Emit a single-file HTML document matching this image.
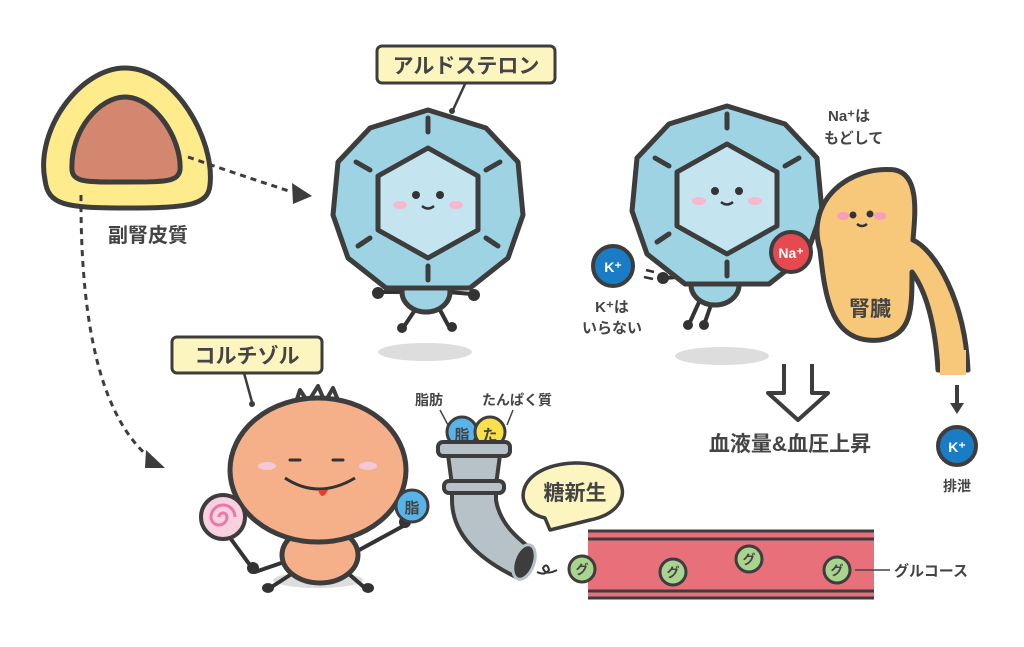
<!DOCTYPE html>
<html><head><meta charset="utf-8"><style>
body{margin:0;background:#fff}
svg{display:block}
text{font-family:"Liberation Sans","Noto Sans CJK JP",sans-serif;fill:#444;font-weight:bold}
</style></head><body>
<svg width="1024" height="647" viewBox="0 0 1024 647" xmlns="http://www.w3.org/2000/svg">
<defs>
<g id="mol">
  <polygon points="0,-90 58,-72 90,-38 95,15 80,58 42,88 -42,88 -80,58 -95,15 -90,-38 -58,-72" fill="#9dd3e2" stroke="#3d3d3d" stroke-width="5" stroke-linejoin="round"/>
  <polygon points="0,-52 50,-24 50,30 0,58 -50,30 -50,-24" fill="#c4e5ef" stroke="#3d3d3d" stroke-width="5" stroke-linejoin="round"/>
  <g stroke="#3d3d3d" stroke-width="5" stroke-linecap="round">
    <line x1="0" y1="-82" x2="0" y2="-68"/><line x1="0" y1="66" x2="0" y2="80"/>
    <line x1="58" y1="-30" x2="72" y2="-38"/><line x1="-58" y1="-30" x2="-72" y2="-38"/>
    <line x1="58" y1="38" x2="70" y2="46"/><line x1="-58" y1="38" x2="-70" y2="46"/>
  </g>
  <circle cx="-12" cy="-5" r="4" fill="#333"/><circle cx="12" cy="-5" r="4" fill="#333"/>
  <path d="M-6,6 Q0,11 6,6" stroke="#333" stroke-width="2.5" fill="none"/>
  <ellipse cx="-28" cy="5" rx="7" ry="4" fill="#f5b8cc"/><ellipse cx="28" cy="5" rx="7" ry="4" fill="#f5b8cc"/>
</g>
</defs>

<!-- adrenal -->
<path d="M45,180 C35,130 80,68 125,68 C175,68 215,140 210,185 C208,205 190,208 125,208 C65,208 48,205 45,180Z" fill="#fdeb8c" stroke="#3d3d3d" stroke-width="5"/>
<path d="M72,170 C70,130 100,97 125,97 C155,97 182,140 180,170 C178,182 165,182 125,182 C90,182 73,183 72,170Z" fill="#d4876f" stroke="#3d3d3d" stroke-width="5"/>
<text x="108" y="242" font-size="20">副腎皮質</text>
<path d="M188,157 Q240,175 292,192" stroke="#3d3d3d" stroke-width="3" stroke-dasharray="6,5" fill="none"/>
<polygon points="292,183 312,196 293,204" fill="#3d3d3d"/>
<path d="M81,195 Q80,400 150,458" stroke="#3d3d3d" stroke-width="3" stroke-dasharray="6,5" fill="none"/>
<polygon points="146,450 165,468 145,468" fill="#3d3d3d"/>

<!-- aldosterone label -->
<rect x="377" y="46" width="178" height="37" rx="5" fill="#fdf5c0" stroke="#3d3d3d" stroke-width="3"/>
<text x="466" y="73" font-size="21" text-anchor="middle">アルドステロン</text>
<line x1="465" y1="84" x2="453" y2="110" stroke="#3d3d3d" stroke-width="2.5"/><circle cx="452" cy="111" r="3" fill="#3d3d3d"/>

<!-- molecule 1 -->
<ellipse cx="425" cy="352" rx="47" ry="9" fill="#ddd"/>
<g stroke="#333" stroke-width="4" fill="none" stroke-linecap="round">
<path d="M408,292 L380,292"/><path d="M448,292 L472,294"/>
<path d="M415,310 L405,325"/><path d="M440,310 L448,325"/></g>
<circle cx="378" cy="293" r="6" fill="#333"/><circle cx="474" cy="295" r="6" fill="#333"/>
<circle cx="402" cy="328" r="5" fill="#333"/><circle cx="452" cy="327" r="5" fill="#333"/>
<ellipse cx="426" cy="292" rx="24" ry="20" fill="#9dd3e2" stroke="#3d3d3d" stroke-width="5"/>
<use href="#mol" x="428" y="200"/>

<!-- molecule 2 -->
<ellipse cx="722" cy="356" rx="47" ry="9" fill="#ddd"/>
<g stroke="#333" stroke-width="4" fill="none" stroke-linecap="round">
<path d="M700,275 L665,278"/><path d="M740,275 L780,270"/>
<path d="M700,300 L690,322"/><path d="M712,302 L705,322"/></g>
<circle cx="663" cy="278" r="6" fill="#333"/><circle cx="688" cy="325" r="5" fill="#333"/><circle cx="704" cy="325" r="5" fill="#333"/>
<ellipse cx="715" cy="285" rx="24" ry="20" fill="#9dd3e2" stroke="#3d3d3d" stroke-width="5"/>
<use href="#mol" x="727" y="196"/>
<line x1="646" y1="270" x2="654" y2="272" stroke="#333" stroke-width="2.5"/><line x1="644" y1="277" x2="653" y2="279" stroke="#333" stroke-width="2.5"/>
<circle cx="613" cy="266" r="20" fill="#1a7cc4" stroke="#3d3d3d" stroke-width="4"/>
<text x="613" y="272" font-size="14" fill="#fff" style="fill:#fff" text-anchor="middle">K⁺</text>
<text x="612" y="312" font-size="15" font-weight="normal" text-anchor="middle">K⁺は</text>
<text x="612" y="333" font-size="15" text-anchor="middle">いらない</text>
<text x="828" y="121" font-size="15">Na⁺は</text>
<text x="824" y="143" font-size="15">もどして</text>

<!-- kidney -->
<path d="M820,250 C805,200 850,165 895,170 C920,175 915,215 913,240 C935,250 965,300 968,370 L938,370 C935,320 925,290 912,272 C912,310 912,335 880,340 C830,345 825,295 820,250Z" fill="#f8c87a" stroke="#3d3d3d" stroke-width="5" stroke-linejoin="round"/>
<rect x="940" y="350" width="26" height="25" fill="#f8c87a"/>
<circle cx="853" cy="215" r="3.5" fill="#333"/><circle cx="870" cy="214" r="3.5" fill="#333"/>
<path d="M857,224 Q862,228 867,224" stroke="#333" stroke-width="2.5" fill="none"/>
<ellipse cx="843" cy="216" rx="6" ry="4" fill="#f5a0b8"/><ellipse cx="880" cy="216" rx="6" ry="4" fill="#f5a0b8"/>
<text x="870" y="316" font-size="21" text-anchor="middle">腎臓</text>
<circle cx="791" cy="252" r="20" fill="#e64a50" stroke="#3d3d3d" stroke-width="4"/>
<text x="791" y="258" font-size="14" style="fill:#fff" text-anchor="middle">Na⁺</text>

<!-- hollow arrow -->
<path d="M784,364 L784,393 L768,393 L798,420 L828,393 L812,393 L812,364" fill="#fff" stroke="#3d3d3d" stroke-width="4" stroke-linejoin="round"/>
<text x="790" y="451" font-size="21" text-anchor="middle">血液量&amp;血圧上昇</text>
<line x1="957" y1="385" x2="957" y2="405" stroke="#3d3d3d" stroke-width="4"/>
<polygon points="950,403 964,403 957,414" fill="#3d3d3d"/>
<circle cx="957" cy="446" r="19" fill="#1a7cc4" stroke="#3d3d3d" stroke-width="4"/>
<text x="957" y="452" font-size="14" style="fill:#fff" text-anchor="middle">K⁺</text>
<text x="957" y="491" font-size="14" text-anchor="middle">排泄</text>

<!-- cortisol -->
<rect x="172" y="337" width="150" height="36" rx="5" fill="#fdf5c0" stroke="#3d3d3d" stroke-width="3"/>
<text x="247" y="363" font-size="21" text-anchor="middle">コルチゾル</text>
<line x1="244" y1="373" x2="252" y2="402" stroke="#3d3d3d" stroke-width="2.5"/><circle cx="252" cy="404" r="3" fill="#3d3d3d"/>
<ellipse cx="318" cy="580" rx="45" ry="8" fill="#ddd"/>
<path d="M295,405 L300,390 L308,402 L318,386 L325,402 L333,388 L340,405" fill="#fff" stroke="#3d3d3d" stroke-width="4" stroke-linejoin="round"/>
<g stroke="#333" stroke-width="4" fill="none" stroke-linecap="round">
<path d="M290,560 L255,572"/><path d="M350,555 L405,525"/>
<path d="M290,575 L270,588"/><path d="M350,575 L365,588"/></g>
<line x1="228" y1="535" x2="255" y2="572" stroke="#333" stroke-width="4"/>
<circle cx="253" cy="568" r="6" fill="#333"/><circle cx="405" cy="522" r="6" fill="#333"/>
<ellipse cx="268" cy="588" rx="6" ry="5" fill="#333"/><ellipse cx="368" cy="588" rx="6" ry="5" fill="#333"/>
<ellipse cx="320" cy="555" rx="38" ry="28" fill="#f5b08a" stroke="#3d3d3d" stroke-width="5"/>
<ellipse cx="318" cy="470" rx="88" ry="72" fill="#f5b08a" stroke="#3d3d3d" stroke-width="5"/>
<path d="M290,460 L300,460 M333,460 L343,460" stroke="#333" stroke-width="3" stroke-linecap="round"/>
<path d="M285,478 Q318,500 355,478" stroke="#333" stroke-width="3" fill="none"/>
<path d="M318,490 q4,12 10,0z" fill="#e04030"/>
<ellipse cx="267" cy="466" rx="9" ry="4" fill="#f5c8d8"/><ellipse cx="368" cy="466" rx="9" ry="4" fill="#f5c8d8"/>
<circle cx="223" cy="517" r="22" fill="#f8d0e0" stroke="#3d3d3d" stroke-width="4"/>
<path d="M223,517 m-4,0 a4,4 0 1,1 8,0 a8,8 0 1,1 -16,0 a12,12 0 1,1 24,0" stroke="#e87aaa" stroke-width="3" fill="none"/>
<circle cx="412" cy="506" r="16" fill="#58b4e8" stroke="#3d3d3d" stroke-width="3"/>
<text x="412" y="513" font-size="15" text-anchor="middle">脂</text>

<!-- pipe -->
<text x="415" y="405" font-size="14">脂肪</text>
<text x="482" y="405" font-size="14">たんぱく質</text>
<line x1="440" y1="410" x2="448" y2="425" stroke="#444" stroke-width="1.5"/>
<line x1="513" y1="410" x2="507" y2="425" stroke="#444" stroke-width="1.5"/>
<circle cx="462" cy="432" r="15" fill="#58b4e8" stroke="#3d3d3d" stroke-width="3"/>
<text x="462" y="440" font-size="15" text-anchor="middle">脂</text>
<circle cx="490" cy="432" r="15" fill="#f7e04a" stroke="#3d3d3d" stroke-width="3"/>
<text x="490" y="440" font-size="15" text-anchor="middle">た</text>
<path d="M448,455 L500,455 L496,485 L496,500 C500,525 520,540 530,548 L518,578 C480,560 452,535 452,500 L452,485Z" fill="#b7c1c8" stroke="#3d3d3d" stroke-width="4" stroke-linejoin="round"/>
<rect x="438" y="442" width="72" height="14" rx="5" fill="#b7c1c8" stroke="#3d3d3d" stroke-width="4"/>
<rect x="444" y="481" width="60" height="12" rx="5" fill="#b7c1c8" stroke="#3d3d3d" stroke-width="4"/>
<ellipse cx="524" cy="562" rx="10" ry="18" transform="rotate(20 524 562)" fill="#3d3d3d" stroke="#b7c1c8" stroke-width="3"/>
<path d="M537,572 q8,4 12,-2 q-2,-8 -6,-2 q2,8 14,2" stroke="#333" stroke-width="2" fill="none"/>

<!-- speech bubble -->
<path d="M545,518 C510,510 515,465 575,463 C630,462 640,510 590,520 L550,530Z" fill="#fdf5c0" stroke="#3d3d3d" stroke-width="3.5" stroke-linejoin="round"/>
<text x="575" y="500" font-size="21" text-anchor="middle">糖新生</text>

<!-- vessel -->
<rect x="588" y="532" width="286" height="66" fill="#e8707a"/>
<g stroke="#3d3d3d" stroke-width="3"><line x1="588" y1="531" x2="874" y2="531"/><line x1="588" y1="539" x2="874" y2="539"/><line x1="588" y1="591" x2="874" y2="591"/><line x1="588" y1="598" x2="874" y2="598"/></g>
<g fill="#a8d490" stroke="#3d3d3d" stroke-width="3">
<circle cx="582" cy="569" r="13"/><circle cx="673" cy="572" r="13"/><circle cx="749" cy="559" r="13"/><circle cx="837" cy="570" r="13"/></g>
<g font-size="13" text-anchor="middle"><text x="582" y="574">グ</text><text x="673" y="577">グ</text><text x="749" y="564">グ</text><text x="837" y="575">グ</text></g>
<line x1="855" y1="570" x2="890" y2="570" stroke="#444" stroke-width="1.5"/>
<text x="894" y="576" font-size="15">グルコース</text>
</svg>
</body></html>
